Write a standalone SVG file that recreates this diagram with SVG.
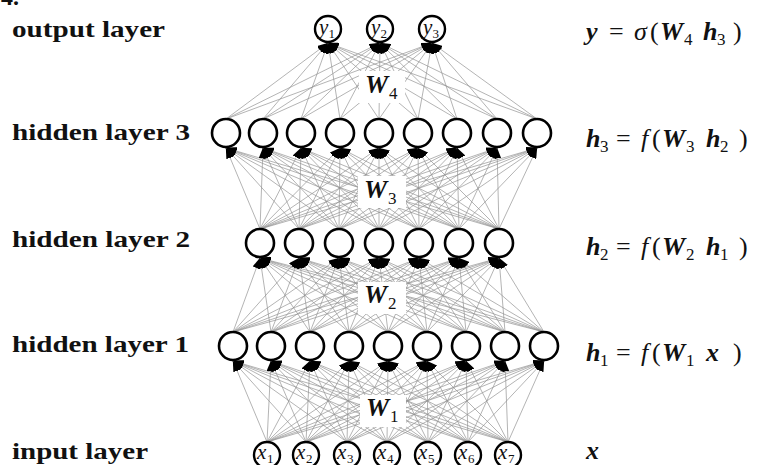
<svg xmlns="http://www.w3.org/2000/svg" width="759" height="465" viewBox="0 0 759 465">
  <style>
    .edge { stroke:#939393; stroke-width:0.7; marker-end:url(#ah); }
    .hn { fill:#fff; stroke:#000; stroke-width:2.6; }
    .io { fill:#fff; stroke:#000; stroke-width:2.4; }
    .lbl { font-family:"Liberation Serif", serif; font-weight:bold; font-size:24px; fill:#111; }
    .math { font-family:"Liberation Serif", serif; font-size:26px; fill:#111; }
    .bi { font-weight:bold; font-style:italic; }
    .it { font-style:italic; }
    .sub { font-size:17px; font-style:normal; font-weight:normal; }
    .wbox { fill:#fff; }
    .w { font-family:"Liberation Serif", serif; font-weight:bold; font-style:italic; font-size:26px; fill:#111; }
    .nl { font-family:"Liberation Serif", serif; font-style:italic; font-size:21px; fill:#111; }
    .ns { font-size:13px; font-style:normal; }
  </style>
  <defs>
    <marker id="ah" viewBox="0 0 11 8" refX="10.5" refY="4" markerWidth="11" markerHeight="8" markerUnits="userSpaceOnUse" orient="auto">
      <path d="M0,0 L11,4 L0,8 z" fill="#000"/>
    </marker>
  </defs>
  <rect width="759" height="465" fill="#fff"/>

  <text class="lbl" x="1" y="4.5" font-size="22">4.</text>

  <!-- weighted connections, drawn from each lower unit to every unit of the layer above -->
  <g id="connectors">
    <g id="w4-edges">
      <line class="edge" x1="226" y1="119" x2="328" y2="43"/><line class="edge" x1="263" y1="119" x2="328" y2="43"/><line class="edge" x1="301" y1="119" x2="328" y2="43"/><line class="edge" x1="340" y1="119" x2="328" y2="43"/><line class="edge" x1="379" y1="119" x2="328" y2="43"/><line class="edge" x1="418" y1="119" x2="328" y2="43"/><line class="edge" x1="457" y1="119" x2="328" y2="43"/><line class="edge" x1="497" y1="119" x2="328" y2="43"/><line class="edge" x1="537" y1="119" x2="328" y2="43"/>
      <line class="edge" x1="226" y1="119" x2="380" y2="43"/><line class="edge" x1="263" y1="119" x2="380" y2="43"/><line class="edge" x1="301" y1="119" x2="380" y2="43"/><line class="edge" x1="340" y1="119" x2="380" y2="43"/><line class="edge" x1="379" y1="119" x2="380" y2="43"/><line class="edge" x1="418" y1="119" x2="380" y2="43"/><line class="edge" x1="457" y1="119" x2="380" y2="43"/><line class="edge" x1="497" y1="119" x2="380" y2="43"/><line class="edge" x1="537" y1="119" x2="380" y2="43"/>
      <line class="edge" x1="226" y1="119" x2="432" y2="43"/><line class="edge" x1="263" y1="119" x2="432" y2="43"/><line class="edge" x1="301" y1="119" x2="432" y2="43"/><line class="edge" x1="340" y1="119" x2="432" y2="43"/><line class="edge" x1="379" y1="119" x2="432" y2="43"/><line class="edge" x1="418" y1="119" x2="432" y2="43"/><line class="edge" x1="457" y1="119" x2="432" y2="43"/><line class="edge" x1="497" y1="119" x2="432" y2="43"/><line class="edge" x1="537" y1="119" x2="432" y2="43"/>
    </g>
    <g id="w3-edges">
      <line class="edge" x1="260" y1="229" x2="226" y2="148"/><line class="edge" x1="299" y1="229" x2="226" y2="148"/><line class="edge" x1="339" y1="229" x2="226" y2="148"/><line class="edge" x1="379" y1="229" x2="226" y2="148"/><line class="edge" x1="419" y1="229" x2="226" y2="148"/><line class="edge" x1="459" y1="229" x2="226" y2="148"/><line class="edge" x1="499" y1="229" x2="226" y2="148"/>
      <line class="edge" x1="260" y1="229" x2="263" y2="148"/><line class="edge" x1="299" y1="229" x2="263" y2="148"/><line class="edge" x1="339" y1="229" x2="263" y2="148"/><line class="edge" x1="379" y1="229" x2="263" y2="148"/><line class="edge" x1="419" y1="229" x2="263" y2="148"/><line class="edge" x1="459" y1="229" x2="263" y2="148"/><line class="edge" x1="499" y1="229" x2="263" y2="148"/>
      <line class="edge" x1="260" y1="229" x2="301" y2="148"/><line class="edge" x1="299" y1="229" x2="301" y2="148"/><line class="edge" x1="339" y1="229" x2="301" y2="148"/><line class="edge" x1="379" y1="229" x2="301" y2="148"/><line class="edge" x1="419" y1="229" x2="301" y2="148"/><line class="edge" x1="459" y1="229" x2="301" y2="148"/><line class="edge" x1="499" y1="229" x2="301" y2="148"/>
      <line class="edge" x1="260" y1="229" x2="340" y2="148"/><line class="edge" x1="299" y1="229" x2="340" y2="148"/><line class="edge" x1="339" y1="229" x2="340" y2="148"/><line class="edge" x1="379" y1="229" x2="340" y2="148"/><line class="edge" x1="419" y1="229" x2="340" y2="148"/><line class="edge" x1="459" y1="229" x2="340" y2="148"/><line class="edge" x1="499" y1="229" x2="340" y2="148"/>
      <line class="edge" x1="260" y1="229" x2="379" y2="148"/><line class="edge" x1="299" y1="229" x2="379" y2="148"/><line class="edge" x1="339" y1="229" x2="379" y2="148"/><line class="edge" x1="379" y1="229" x2="379" y2="148"/><line class="edge" x1="419" y1="229" x2="379" y2="148"/><line class="edge" x1="459" y1="229" x2="379" y2="148"/><line class="edge" x1="499" y1="229" x2="379" y2="148"/>
      <line class="edge" x1="260" y1="229" x2="418" y2="148"/><line class="edge" x1="299" y1="229" x2="418" y2="148"/><line class="edge" x1="339" y1="229" x2="418" y2="148"/><line class="edge" x1="379" y1="229" x2="418" y2="148"/><line class="edge" x1="419" y1="229" x2="418" y2="148"/><line class="edge" x1="459" y1="229" x2="418" y2="148"/><line class="edge" x1="499" y1="229" x2="418" y2="148"/>
      <line class="edge" x1="260" y1="229" x2="457" y2="148"/><line class="edge" x1="299" y1="229" x2="457" y2="148"/><line class="edge" x1="339" y1="229" x2="457" y2="148"/><line class="edge" x1="379" y1="229" x2="457" y2="148"/><line class="edge" x1="419" y1="229" x2="457" y2="148"/><line class="edge" x1="459" y1="229" x2="457" y2="148"/><line class="edge" x1="499" y1="229" x2="457" y2="148"/>
      <line class="edge" x1="260" y1="229" x2="497" y2="148"/><line class="edge" x1="299" y1="229" x2="497" y2="148"/><line class="edge" x1="339" y1="229" x2="497" y2="148"/><line class="edge" x1="379" y1="229" x2="497" y2="148"/><line class="edge" x1="419" y1="229" x2="497" y2="148"/><line class="edge" x1="459" y1="229" x2="497" y2="148"/><line class="edge" x1="499" y1="229" x2="497" y2="148"/>
      <line class="edge" x1="260" y1="229" x2="537" y2="148"/><line class="edge" x1="299" y1="229" x2="537" y2="148"/><line class="edge" x1="339" y1="229" x2="537" y2="148"/><line class="edge" x1="379" y1="229" x2="537" y2="148"/><line class="edge" x1="419" y1="229" x2="537" y2="148"/><line class="edge" x1="459" y1="229" x2="537" y2="148"/><line class="edge" x1="499" y1="229" x2="537" y2="148"/>
    </g>
    <g id="w2-edges">
      <line class="edge" x1="233" y1="332" x2="260" y2="258"/><line class="edge" x1="271" y1="332" x2="260" y2="258"/><line class="edge" x1="310" y1="332" x2="260" y2="258"/><line class="edge" x1="349" y1="332" x2="260" y2="258"/><line class="edge" x1="388" y1="332" x2="260" y2="258"/><line class="edge" x1="427" y1="332" x2="260" y2="258"/><line class="edge" x1="466" y1="332" x2="260" y2="258"/><line class="edge" x1="505" y1="332" x2="260" y2="258"/><line class="edge" x1="544" y1="332" x2="260" y2="258"/>
      <line class="edge" x1="233" y1="332" x2="299" y2="258"/><line class="edge" x1="271" y1="332" x2="299" y2="258"/><line class="edge" x1="310" y1="332" x2="299" y2="258"/><line class="edge" x1="349" y1="332" x2="299" y2="258"/><line class="edge" x1="388" y1="332" x2="299" y2="258"/><line class="edge" x1="427" y1="332" x2="299" y2="258"/><line class="edge" x1="466" y1="332" x2="299" y2="258"/><line class="edge" x1="505" y1="332" x2="299" y2="258"/><line class="edge" x1="544" y1="332" x2="299" y2="258"/>
      <line class="edge" x1="233" y1="332" x2="339" y2="258"/><line class="edge" x1="271" y1="332" x2="339" y2="258"/><line class="edge" x1="310" y1="332" x2="339" y2="258"/><line class="edge" x1="349" y1="332" x2="339" y2="258"/><line class="edge" x1="388" y1="332" x2="339" y2="258"/><line class="edge" x1="427" y1="332" x2="339" y2="258"/><line class="edge" x1="466" y1="332" x2="339" y2="258"/><line class="edge" x1="505" y1="332" x2="339" y2="258"/><line class="edge" x1="544" y1="332" x2="339" y2="258"/>
      <line class="edge" x1="233" y1="332" x2="379" y2="258"/><line class="edge" x1="271" y1="332" x2="379" y2="258"/><line class="edge" x1="310" y1="332" x2="379" y2="258"/><line class="edge" x1="349" y1="332" x2="379" y2="258"/><line class="edge" x1="388" y1="332" x2="379" y2="258"/><line class="edge" x1="427" y1="332" x2="379" y2="258"/><line class="edge" x1="466" y1="332" x2="379" y2="258"/><line class="edge" x1="505" y1="332" x2="379" y2="258"/><line class="edge" x1="544" y1="332" x2="379" y2="258"/>
      <line class="edge" x1="233" y1="332" x2="419" y2="258"/><line class="edge" x1="271" y1="332" x2="419" y2="258"/><line class="edge" x1="310" y1="332" x2="419" y2="258"/><line class="edge" x1="349" y1="332" x2="419" y2="258"/><line class="edge" x1="388" y1="332" x2="419" y2="258"/><line class="edge" x1="427" y1="332" x2="419" y2="258"/><line class="edge" x1="466" y1="332" x2="419" y2="258"/><line class="edge" x1="505" y1="332" x2="419" y2="258"/><line class="edge" x1="544" y1="332" x2="419" y2="258"/>
      <line class="edge" x1="233" y1="332" x2="459" y2="258"/><line class="edge" x1="271" y1="332" x2="459" y2="258"/><line class="edge" x1="310" y1="332" x2="459" y2="258"/><line class="edge" x1="349" y1="332" x2="459" y2="258"/><line class="edge" x1="388" y1="332" x2="459" y2="258"/><line class="edge" x1="427" y1="332" x2="459" y2="258"/><line class="edge" x1="466" y1="332" x2="459" y2="258"/><line class="edge" x1="505" y1="332" x2="459" y2="258"/><line class="edge" x1="544" y1="332" x2="459" y2="258"/>
      <line class="edge" x1="233" y1="332" x2="499" y2="258"/><line class="edge" x1="271" y1="332" x2="499" y2="258"/><line class="edge" x1="310" y1="332" x2="499" y2="258"/><line class="edge" x1="349" y1="332" x2="499" y2="258"/><line class="edge" x1="388" y1="332" x2="499" y2="258"/><line class="edge" x1="427" y1="332" x2="499" y2="258"/><line class="edge" x1="466" y1="332" x2="499" y2="258"/><line class="edge" x1="505" y1="332" x2="499" y2="258"/><line class="edge" x1="544" y1="332" x2="499" y2="258"/>
    </g>
    <g id="w1-edges">
      <line class="edge" x1="267" y1="442" x2="233" y2="361"/><line class="edge" x1="306" y1="442" x2="233" y2="361"/><line class="edge" x1="347" y1="442" x2="233" y2="361"/><line class="edge" x1="387" y1="442" x2="233" y2="361"/><line class="edge" x1="428" y1="442" x2="233" y2="361"/><line class="edge" x1="468" y1="442" x2="233" y2="361"/><line class="edge" x1="508" y1="442" x2="233" y2="361"/>
      <line class="edge" x1="267" y1="442" x2="271" y2="361"/><line class="edge" x1="306" y1="442" x2="271" y2="361"/><line class="edge" x1="347" y1="442" x2="271" y2="361"/><line class="edge" x1="387" y1="442" x2="271" y2="361"/><line class="edge" x1="428" y1="442" x2="271" y2="361"/><line class="edge" x1="468" y1="442" x2="271" y2="361"/><line class="edge" x1="508" y1="442" x2="271" y2="361"/>
      <line class="edge" x1="267" y1="442" x2="310" y2="361"/><line class="edge" x1="306" y1="442" x2="310" y2="361"/><line class="edge" x1="347" y1="442" x2="310" y2="361"/><line class="edge" x1="387" y1="442" x2="310" y2="361"/><line class="edge" x1="428" y1="442" x2="310" y2="361"/><line class="edge" x1="468" y1="442" x2="310" y2="361"/><line class="edge" x1="508" y1="442" x2="310" y2="361"/>
      <line class="edge" x1="267" y1="442" x2="349" y2="361"/><line class="edge" x1="306" y1="442" x2="349" y2="361"/><line class="edge" x1="347" y1="442" x2="349" y2="361"/><line class="edge" x1="387" y1="442" x2="349" y2="361"/><line class="edge" x1="428" y1="442" x2="349" y2="361"/><line class="edge" x1="468" y1="442" x2="349" y2="361"/><line class="edge" x1="508" y1="442" x2="349" y2="361"/>
      <line class="edge" x1="267" y1="442" x2="388" y2="361"/><line class="edge" x1="306" y1="442" x2="388" y2="361"/><line class="edge" x1="347" y1="442" x2="388" y2="361"/><line class="edge" x1="387" y1="442" x2="388" y2="361"/><line class="edge" x1="428" y1="442" x2="388" y2="361"/><line class="edge" x1="468" y1="442" x2="388" y2="361"/><line class="edge" x1="508" y1="442" x2="388" y2="361"/>
      <line class="edge" x1="267" y1="442" x2="427" y2="361"/><line class="edge" x1="306" y1="442" x2="427" y2="361"/><line class="edge" x1="347" y1="442" x2="427" y2="361"/><line class="edge" x1="387" y1="442" x2="427" y2="361"/><line class="edge" x1="428" y1="442" x2="427" y2="361"/><line class="edge" x1="468" y1="442" x2="427" y2="361"/><line class="edge" x1="508" y1="442" x2="427" y2="361"/>
      <line class="edge" x1="267" y1="442" x2="466" y2="361"/><line class="edge" x1="306" y1="442" x2="466" y2="361"/><line class="edge" x1="347" y1="442" x2="466" y2="361"/><line class="edge" x1="387" y1="442" x2="466" y2="361"/><line class="edge" x1="428" y1="442" x2="466" y2="361"/><line class="edge" x1="468" y1="442" x2="466" y2="361"/><line class="edge" x1="508" y1="442" x2="466" y2="361"/>
      <line class="edge" x1="267" y1="442" x2="505" y2="361"/><line class="edge" x1="306" y1="442" x2="505" y2="361"/><line class="edge" x1="347" y1="442" x2="505" y2="361"/><line class="edge" x1="387" y1="442" x2="505" y2="361"/><line class="edge" x1="428" y1="442" x2="505" y2="361"/><line class="edge" x1="468" y1="442" x2="505" y2="361"/><line class="edge" x1="508" y1="442" x2="505" y2="361"/>
      <line class="edge" x1="267" y1="442" x2="544" y2="361"/><line class="edge" x1="306" y1="442" x2="544" y2="361"/><line class="edge" x1="347" y1="442" x2="544" y2="361"/><line class="edge" x1="387" y1="442" x2="544" y2="361"/><line class="edge" x1="428" y1="442" x2="544" y2="361"/><line class="edge" x1="468" y1="442" x2="544" y2="361"/><line class="edge" x1="508" y1="442" x2="544" y2="361"/>
    </g>
  </g>

  <!-- weight matrix labels on a white patch -->
  <g id="w4"><rect class="wbox" x="359" y="71" width="46" height="32"/><text class="w" x="365" y="93">W<tspan class="sub" x="389" y="99">4</tspan></text></g>
  <g id="w3"><rect class="wbox" x="358" y="176" width="48" height="32"/><text class="w" x="364" y="198">W<tspan class="sub" x="388" y="204">3</tspan></text></g>
  <g id="w2"><rect class="wbox" x="358" y="282" width="48" height="32"/><text class="w" x="364" y="303">W<tspan class="sub" x="388" y="309">2</tspan></text></g>
  <g id="w1"><rect class="wbox" x="360" y="395" width="46" height="32"/><text class="w" x="366" y="416">W<tspan class="sub" x="390" y="422">1</tspan></text></g>

  <!-- output layer -->
  <g id="out-1"><circle class="io" cx="328" cy="29" r="13"/><text class="nl" x="319" y="34">y<tspan class="ns" x="328.5" y="38">1</tspan></text></g>
  <g id="out-2"><circle class="io" cx="380" cy="29" r="13"/><text class="nl" x="371" y="34">y<tspan class="ns" x="380.5" y="38">2</tspan></text></g>
  <g id="out-3"><circle class="io" cx="432" cy="29" r="13"/><text class="nl" x="423" y="34">y<tspan class="ns" x="432.5" y="38">3</tspan></text></g>

  <!-- hidden layer 3 -->
  <g id="h3-1"><circle class="hn" cx="226" cy="133" r="14"/></g>
  <g id="h3-2"><circle class="hn" cx="263" cy="133" r="14"/></g>
  <g id="h3-3"><circle class="hn" cx="301" cy="133" r="14"/></g>
  <g id="h3-4"><circle class="hn" cx="340" cy="133" r="14"/></g>
  <g id="h3-5"><circle class="hn" cx="379" cy="133" r="14"/></g>
  <g id="h3-6"><circle class="hn" cx="418" cy="133" r="14"/></g>
  <g id="h3-7"><circle class="hn" cx="457" cy="133" r="14"/></g>
  <g id="h3-8"><circle class="hn" cx="497" cy="133" r="14"/></g>
  <g id="h3-9"><circle class="hn" cx="537" cy="133" r="14"/></g>

  <!-- hidden layer 2 -->
  <g id="h2-1"><circle class="hn" cx="260" cy="243" r="14"/></g>
  <g id="h2-2"><circle class="hn" cx="299" cy="243" r="14"/></g>
  <g id="h2-3"><circle class="hn" cx="339" cy="243" r="14"/></g>
  <g id="h2-4"><circle class="hn" cx="379" cy="243" r="14"/></g>
  <g id="h2-5"><circle class="hn" cx="419" cy="243" r="14"/></g>
  <g id="h2-6"><circle class="hn" cx="459" cy="243" r="14"/></g>
  <g id="h2-7"><circle class="hn" cx="499" cy="243" r="14"/></g>

  <!-- hidden layer 1 -->
  <g id="h1-1"><circle class="hn" cx="233" cy="346" r="14"/></g>
  <g id="h1-2"><circle class="hn" cx="271" cy="346" r="14"/></g>
  <g id="h1-3"><circle class="hn" cx="310" cy="346" r="14"/></g>
  <g id="h1-4"><circle class="hn" cx="349" cy="346" r="14"/></g>
  <g id="h1-5"><circle class="hn" cx="388" cy="346" r="14"/></g>
  <g id="h1-6"><circle class="hn" cx="427" cy="346" r="14"/></g>
  <g id="h1-7"><circle class="hn" cx="466" cy="346" r="14"/></g>
  <g id="h1-8"><circle class="hn" cx="505" cy="346" r="14"/></g>
  <g id="h1-9"><circle class="hn" cx="544" cy="346" r="14"/></g>

  <!-- input layer -->
  <g id="in-1"><circle class="io" cx="267" cy="455" r="13"/><text class="nl" x="257" y="459">x<tspan class="ns" x="267" y="463">1</tspan></text></g>
  <g id="in-2"><circle class="io" cx="306" cy="455" r="13"/><text class="nl" x="296" y="459">x<tspan class="ns" x="306" y="463">2</tspan></text></g>
  <g id="in-3"><circle class="io" cx="347" cy="455" r="13"/><text class="nl" x="337" y="459">x<tspan class="ns" x="347" y="463">3</tspan></text></g>
  <g id="in-4"><circle class="io" cx="387" cy="455" r="13"/><text class="nl" x="377" y="459">x<tspan class="ns" x="387" y="463">4</tspan></text></g>
  <g id="in-5"><circle class="io" cx="428" cy="455" r="13"/><text class="nl" x="418" y="459">x<tspan class="ns" x="428" y="463">5</tspan></text></g>
  <g id="in-6"><circle class="io" cx="468" cy="455" r="13"/><text class="nl" x="458" y="459">x<tspan class="ns" x="468" y="463">6</tspan></text></g>
  <g id="in-7"><circle class="io" cx="508" cy="455" r="13"/><text class="nl" x="498" y="459">x<tspan class="ns" x="508" y="463">7</tspan></text></g>

  <!-- layer names -->
  <g id="layer-names">
    <text class="lbl" x="12" y="37" textLength="153" lengthAdjust="spacingAndGlyphs">output layer</text>
    <text class="lbl" x="12" y="140" textLength="178" lengthAdjust="spacingAndGlyphs">hidden layer 3</text>
    <text class="lbl" x="12" y="247" textLength="178" lengthAdjust="spacingAndGlyphs">hidden layer 2</text>
    <text class="lbl" x="12" y="352" textLength="177" lengthAdjust="spacingAndGlyphs">hidden layer 1</text>
    <text class="lbl" x="12" y="459" textLength="136" lengthAdjust="spacingAndGlyphs">input layer</text>
  </g>

  <!-- layer equations -->
  <g id="equations" class="math">
    <text y="40"><tspan class="bi" x="586">y</tspan><tspan x="609">=</tspan><tspan class="it" x="634">σ</tspan><tspan x="650">(</tspan><tspan class="bi" x="660">W</tspan><tspan class="sub" x="684" y="45">4</tspan><tspan class="bi" x="703" y="40">h</tspan><tspan class="sub" x="717" y="45">3</tspan><tspan x="733" y="40">)</tspan></text>
    <text y="147"><tspan class="bi" x="586">h</tspan><tspan class="sub" x="600" y="152">3</tspan><tspan x="616" y="147">=</tspan><tspan class="it" x="641">f</tspan><tspan x="652">(</tspan><tspan class="bi" x="662">W</tspan><tspan class="sub" x="686" y="152">3</tspan><tspan class="bi" x="706" y="147">h</tspan><tspan class="sub" x="720" y="152">2</tspan><tspan x="739" y="147">)</tspan></text>
    <text y="255"><tspan class="bi" x="586">h</tspan><tspan class="sub" x="600" y="260">2</tspan><tspan x="616" y="255">=</tspan><tspan class="it" x="641">f</tspan><tspan x="652">(</tspan><tspan class="bi" x="662">W</tspan><tspan class="sub" x="686" y="260">2</tspan><tspan class="bi" x="706" y="255">h</tspan><tspan class="sub" x="720" y="260">1</tspan><tspan x="739" y="255">)</tspan></text>
    <text y="361"><tspan class="bi" x="586">h</tspan><tspan class="sub" x="600" y="366">1</tspan><tspan x="616" y="361">=</tspan><tspan class="it" x="641">f</tspan><tspan x="652">(</tspan><tspan class="bi" x="662">W</tspan><tspan class="sub" x="686" y="366">1</tspan><tspan class="bi" x="706" y="361">x</tspan><tspan x="733" y="361">)</tspan></text>
    <text y="459"><tspan class="bi" x="586">x</tspan></text>
  </g>
</svg>
